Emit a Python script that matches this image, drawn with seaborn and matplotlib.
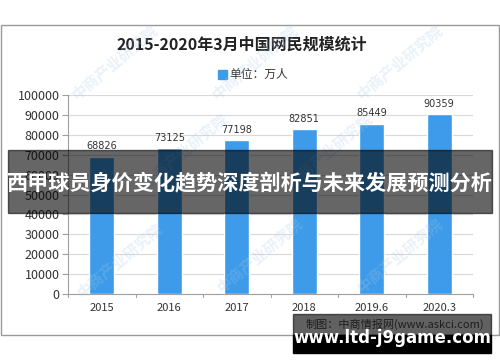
import matplotlib
matplotlib.use("Agg")
import matplotlib.pyplot as plt
import seaborn as sns
import pandas as pd
from matplotlib.patches import Rectangle

# data
years = ["2015", "2016", "2017", "2018", "2019.6", "2020.3"]
users = [68826, 73125, 77198, 82851, 85449, 90359]
title = "2015-2020年3月中国网民规模统计"
legend_label = "单位：万人"
banner_text = "西甲球员身价变化趋势深度剖析与未来发展预测分析"
source_text = "制图：中商情报网(www.askci.com)"
site_text = "www.ltd-j9game.com"

df = pd.DataFrame({"year": years, "users": users})

sns.set_style("white")
plt.rcParams['font.family'] = ['Noto Sans CJK SC', 'DejaVu Sans']

W, H = 500, 362
fig = plt.figure(figsize=(5, 3.62), dpi=100)

def fx(x):
    return x / W

def fy(y):
    return 1 - y / H

blue = "#3d9be9"

ax = fig.add_axes([fx(68), fy(294), fx(473) - fx(68), fy(95) - fy(294)])
sns.barplot(data=df, x="year", y="users", color=blue, width=0.37,
            saturation=1, ax=ax, zorder=3)
ax.set_xlim(-0.5, 5.5)
ax.set_ylim(0, 100000)
ax.set_yticks(range(0, 100001, 10000))
ax.yaxis.grid(True, color="#d9d9d9", linewidth=0.8, zorder=0)
ax.set_xlabel("")
ax.set_ylabel("")
for s in ["top", "right"]:
    ax.spines[s].set_visible(False)
ax.spines["left"].set_color("#a0a0a0")
ax.spines["bottom"].set_color("#a0a0a0")
ax.tick_params(axis="y", labelsize=9, colors="#a0a0a0", labelcolor="#333333",
               length=4, width=0.8, left=True, pad=2)
ax.tick_params(axis="x", labelsize=8, bottom=False, labelcolor="#333333", pad=3)
ax.set_xticks(range(len(years)))
ax.set_xticklabels(years)
# boundary ticks between categories
for b in [i - 0.5 for i in range(len(years) + 1)]:
    ax.plot([b, b], [0, -1500], color="#a0a0a0", lw=0.8, clip_on=False)

for i, v in enumerate(users):
    ax.text(i, v + 2800, str(v), ha="center", va="bottom", fontsize=7,
            color="#333333", family="DejaVu Sans")

# frame
fig.patches.append(Rectangle((fx(0.5), fy(335)), fx(498.5), fy(25) - fy(335),
                             transform=fig.transFigure, fill=False,
                             edgecolor="#9a9a9a", lw=1))

fig.text(fx(242), fy(45), title, ha="center", va="center", fontsize=11.5,
         fontweight="bold", color="#222222")
fig.patches.append(Rectangle((fx(218), fy(79)), fx(9), fy(70) - fy(79),
                             transform=fig.transFigure, color=blue))
fig.text(fx(229), fy(74), legend_label, ha="left", va="center", fontsize=8.5,
         color="#333333")

# faint watermarks
for (wx, wy) in [(115, 62), (255, 62), (400, 62), (185, 150), (330, 150),
                 (120, 260), (260, 255), (400, 255)]:
    fig.text(fx(wx), fy(wy), "中商产业研究院", ha="center", va="center",
             fontsize=11, rotation=40, color="#a9c9e8", alpha=0.25,
             fontweight="bold")

# banner overlay
fig.patches.append(Rectangle((fx(8), fy(213)), fx(484), fy(150) - fy(213),
                             transform=fig.transFigure, color="black",
                             alpha=0.6, zorder=10))
fig.text(fx(250), fy(184), banner_text, ha="center", va="center",
         fontsize=15.2, fontweight="bold", color="white", zorder=11)

# bottom right box
fig.patches.append(Rectangle((fx(293), fy(335)), fx(198), fy(314) - fy(335),
                             transform=fig.transFigure, color="black",
                             alpha=0.62, zorder=10))
fig.patches.append(Rectangle((fx(293), fy(353)), fx(198), fy(335) - fy(353),
                             transform=fig.transFigure, color="black",
                             zorder=10))
fig.text(fx(306), fy(324), source_text, ha="left", va="center", fontsize=8,
         color="#1e1e1e", zorder=11)
fig.text(fx(392), fy(338), site_text, ha="center", va="center", fontsize=12,
         fontweight="bold", color="white", family="DejaVu Sans", zorder=11)

fig.savefig("out.png", dpi=100)
